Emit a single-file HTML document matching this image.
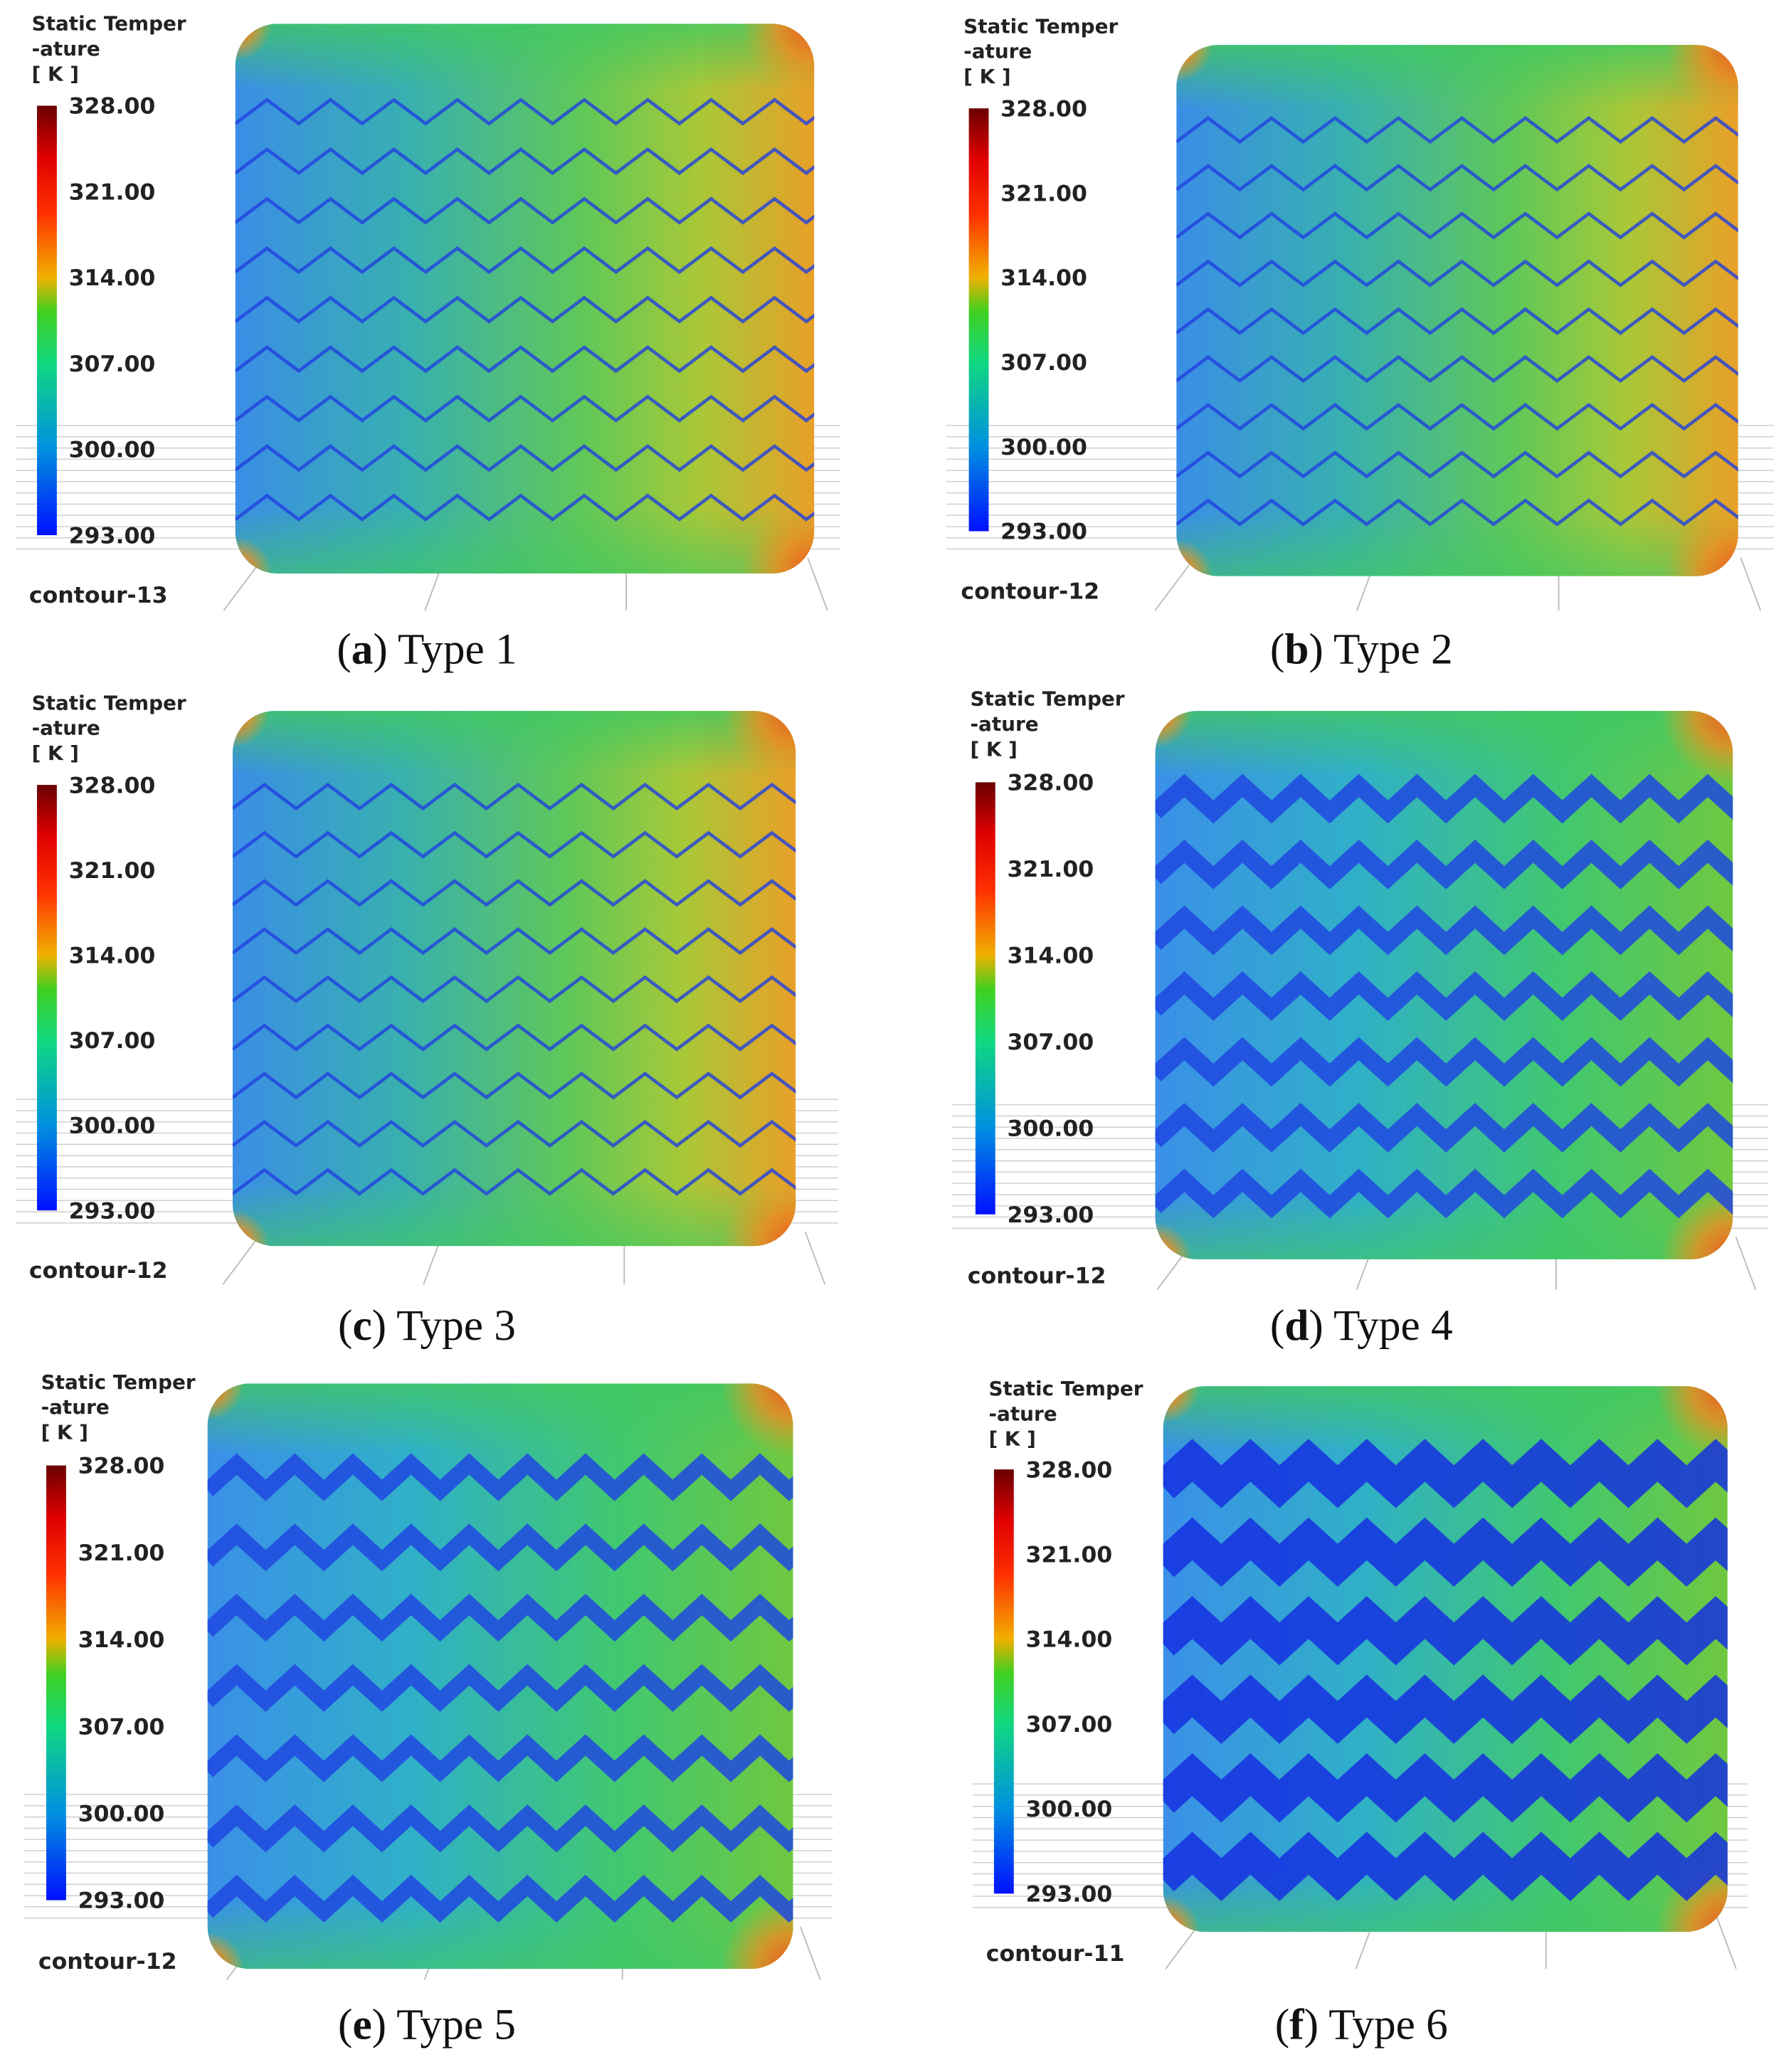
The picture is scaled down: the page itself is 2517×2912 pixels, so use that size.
<!DOCTYPE html>
<html><head><meta charset="utf-8">
<style>
html,body{margin:0;padding:0;background:#fff;}
svg{display:block;}
.t{font-family:"DejaVu Sans","Liberation Sans",sans-serif;font-weight:bold;fill:#222;}
.cap{font-family:"Liberation Serif",serif;fill:#111;}
</style></head>
<body>
<svg id="fig" width="2517" height="2912" viewBox="0 0 1355 1568" preserveAspectRatio="none" xmlns="http://www.w3.org/2000/svg">
<defs id="defs">
<linearGradient id="cbar" x1="0" y1="1" x2="0" y2="0">
<stop offset="0" stop-color="#0010ff"/><stop offset="0.2" stop-color="#0090e0"/><stop offset="0.4" stop-color="#10d880"/><stop offset="0.52" stop-color="#40d020"/><stop offset="0.6" stop-color="#f0b000"/><stop offset="0.75" stop-color="#ff3000"/><stop offset="0.88" stop-color="#e00000"/><stop offset="1" stop-color="#6a0000"/>
</linearGradient>
<linearGradient id="pl1" x1="0" y1="0" x2="1" y2="0">
<stop offset="0" stop-color="#3a8ee6"/><stop offset="0.3" stop-color="#38b0b0"/><stop offset="0.6" stop-color="#60c858"/><stop offset="0.8" stop-color="#a8c838"/><stop offset="1" stop-color="#e8a028"/>
</linearGradient>
<linearGradient id="pl4" x1="0" y1="0" x2="1" y2="0">
<stop offset="0" stop-color="#3a90e8"/><stop offset="0.35" stop-color="#30b0c8"/><stop offset="0.7" stop-color="#40c870"/><stop offset="1" stop-color="#70c840"/>
</linearGradient>
<linearGradient id="topfade" x1="0" y1="0" x2="0" y2="1">
<stop offset="0" stop-color="#40c860" stop-opacity="0.8"/><stop offset="0.12" stop-color="#40c860" stop-opacity="0"/><stop offset="0.88" stop-color="#40c860" stop-opacity="0"/><stop offset="1" stop-color="#40c860" stop-opacity="0.6"/>
</linearGradient>
<radialGradient id="corner"><stop offset="0" stop-color="#f05020"/><stop offset="0.5" stop-color="#f08a20" stop-opacity="0.8"/><stop offset="1" stop-color="#f0a020" stop-opacity="0"/></radialGradient>
</defs>
</svg>
<script>
const tickLabels=["328.00","321.00","314.00","307.00","300.00","293.00"];
const panelNames=["(a)","(b)","(c)","(d)","(e)","(f)"];
const typeLabels=["Type 1","Type 2","Type 3","Type 4","Type 5","Type 6"];
const contourLabels=["contour-13","contour-12","contour-12","contour-12","contour-12","contour-11"];
const zigRows=[9,9,9,7,7,6];
const zigWidth=[2.5,2.5,2.5,13,12,24];
const P=[
 {tx:24,ty:18,cx:28,cy0:80,cy1:405,px:178,py:18,pw:438,ph:416,gx:12,gy:322,gw:624,cl:[22,450],cap:[323,491],g:'pl1'},
 {tx:729,ty:20,cx:733,cy0:82,cy1:402,px:890,py:34,pw:425,ph:402,gx:716,gy:322,gw:626,cl:[727,447],cap:[1030,491],g:'pl1'},
 {tx:24,ty:532,cx:28,cy0:594,cy1:916,px:176,py:538,pw:426,ph:405,gx:12,gy:832,gw:622,cl:[22,961],cap:[323,1003],g:'pl1'},
 {tx:734,ty:529,cx:738,cy0:592,cy1:919,px:874,py:538,pw:437,ph:415,gx:720,gy:836,gw:618,cl:[732,965],cap:[1030,1003],g:'pl4'},
 {tx:31,ty:1046,cx:35,cy0:1109,cy1:1438,px:157,py:1047,pw:443,ph:443,gx:18,gy:1358,gw:612,cl:[29,1484],cap:[323,1532],g:'pl4'},
 {tx:748,ty:1051,cx:752,cy0:1112,cy1:1433,px:880,py:1049,pw:427,ph:413,gx:736,gy:1350,gw:586,cl:[746,1478],cap:[1030,1532],g:'pl4'}
];
const svg=document.getElementById('fig');
const defs=document.getElementById('defs');
const NS="http://www.w3.org/2000/svg";
function mk(tag,attrs,parent){const e=document.createElementNS(NS,tag);for(const k in attrs)e.setAttribute(k,attrs[k]);(parent||svg).appendChild(e);return e;}
P.forEach((p,i)=>{
 const cp=mk('clipPath',{id:'clip'+i},defs);
 mk('rect',{x:p.px,y:p.py,width:p.pw,height:p.ph,rx:32},cp);
 const g=mk('g',{});
 
 
 for(let k=0;k<12;k++){const y=p.gy+k*8.5;const l=mk('line',{x1:p.gx,y1:y,x2:p.gx+p.gw,y2:y,stroke:'#cfcfcf','stroke-width':0.8},g);}
 for(let k=0;k<4;k++){const x=p.gx+p.gw*(0.3+k*0.22);const l=mk('line',{x1:x,y1:p.gy+100,x2:x-30+k*15,y2:p.gy+140,stroke:'#bbb','stroke-width':1},g);}
 const pg=mk('g',{'clip-path':'url(#clip'+i+')'},g);
 
 mk('rect',{x:p.px,y:p.py,width:p.pw,height:p.ph,fill:'url(#'+p.g+')'},pg);
 mk('rect',{x:p.px,y:p.py,width:p.pw,height:p.ph,fill:'url(#topfade)'},pg);
 [[p.px+p.pw,p.py],[p.px+p.pw,p.py+p.ph],[p.px,p.py],[p.px,p.py+p.ph]].forEach((c,j)=>{
  const rr=j<2?55:28;const e=mk('circle',{cx:c[0],cy:c[1],r:rr,fill:'url(#corner)'},pg);
  
 });
 const n=zigRows[i];const top=p.py+p.ph*0.16,bot=p.py+p.ph*0.88;const step=(bot-top)/(n-1);
 const per=i<3?48:44;const amp=i<3?9:10;
 for(let k=0;k<n;k++){
  const y0=top+k*step;let pts=[];
  for(let x=p.px;x<=p.px+p.pw+per;x+=per/2){pts.push(x+','+(y0+((Math.round((x-p.px)/(per/2))%2)?-amp:amp)));}
  const col=i<3?'#2040e0':(i==5?'#1530e0':'#2048e0');
  const pl=mk('polyline',{points:pts.join(' '),fill:'none',stroke:col,'stroke-width':zigWidth[i],'stroke-opacity':i<3?0.8:0.85},pg);
  
 }
 ['Static Temper','-ature','[ K ]'].forEach((s,j)=>{const t=mk('text',{x:p.tx,y:p.ty+5+j*19,class:'t','font-size':15},g);t.textContent=s;});
 const cb=mk('rect',{x:p.cx,y:p.cy0,width:15,height:p.cy1-p.cy0,fill:'url(#cbar)'},g);
 
 tickLabels.forEach((s,j)=>{const y=p.cy0+(p.cy1-p.cy0)*j/(tickLabels.length-1);const t=mk('text',{x:p.cx+24,y:y+6,class:'t','font-size':17},g);t.textContent=s;});
 const c=mk('text',{x:p.cl[0],y:p.cl[1]+6,class:'t','font-size':17},g);c.textContent=contourLabels[i];
 
 const cap=mk('text',{x:p.cap[0],y:p.cap[1]+11,class:'cap','font-size':33,'text-anchor':'middle'},g);
 
 const b1=mk('tspan',{},cap);b1.textContent='(';const b2=mk('tspan',{'font-weight':'bold'},cap);b2.textContent=panelNames[i][1];const b3=mk('tspan',{},cap);b3.textContent=') '+typeLabels[i];
});
</script>
</body></html>
